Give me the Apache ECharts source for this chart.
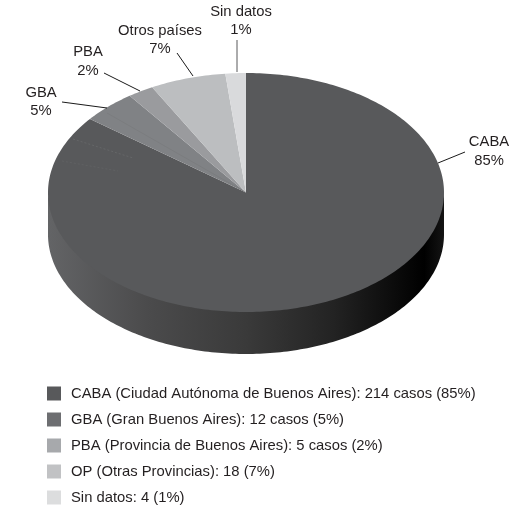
<!DOCTYPE html>
<html><head><meta charset="utf-8">
<style>html,body{margin:0;padding:0;background:#fff}#c{width:511px;height:508px}</style>
<script src="https://cdn.jsdelivr.net/npm/echarts@6/dist/echarts.min.js"></script>
</head><body><div id="c"></div>
<script>
// Data
const labelNames = ['CABA','GBA','PBA','Otros países','Sin datos'];
const labelPercents = [85,5,2,7,1];
const legendTexts = [
  'CABA (Ciudad Autónoma de Buenos Aires): 214 casos (85%)',
  'GBA (Gran Buenos Aires): 12 casos (5%)',
  'PBA (Provincia de Buenos Aires): 5 casos (2%)',
  'OP (Otras Provincias): 18 (7%)',
  'Sin datos: 4 (1%)'
];
// slice sweeps as drawn in the picture (degrees around the ellipse, clockwise from top)
const sliceSweeps = [308,16,7.7,22.3,6];
const sliceColors = ['#58595b','#808285','#9a9b9e','#bcbec0','#d9dadc'];
const legendColors = ['#58595b','#6d6e71','#a7a9ac','#c1c2c4','#dcddde'];

// Layout
const FONT = '"Liberation Sans"';
const C = {x:246,y:192.5,rx:198,ry:119.5,depth:42};
const labelLayout = [
  {x:489,y:151.5,line:[[438,163],[465,152]]},
  {x:41,y:102,line:[[107,108],[62,102]]},
  {x:88,y:61.5,line:[[140,91],[104,73]]},
  {x:160,y:40,line:[[193,76],[177,53]]},
  {x:241,y:21,line:[[237,72],[237,40]]}
];
const faintMarks = [
  [[[73,139],[133,158]],'#6a6b6d',[2,2]],
  [[[62,161],[118,171]],'#636466',[2,2]]
];
const pt = (t,dy=0)=>{const r=t*Math.PI/180;return [C.x+C.rx*Math.sin(r),C.y-C.ry*Math.cos(r)+dy];};
function arcPoints(a,b,dy=0){const n=Math.max(2,Math.ceil(Math.abs(b-a)));const o=[];for(let i=0;i<=n;i++)o.push(pt(a+(b-a)*i/n,dy));return o;}

const wallFill = new echarts.graphic.LinearGradient(0,0,1,0,[
  {offset:0,color:'#636466'},{offset:0.25,color:'#4b4b4c'},{offset:0.5,color:'#3a3a3a'},
  {offset:0.72,color:'#232323'},{offset:0.95,color:'#000000'},{offset:1,color:'#141414'}]);

const wallSeries = {
  type:'custom',name:'wall',coordinateSystem:'none',silent:true,z:1,data:[[1]],animation:false,
  renderItem(){
    return {type:'polygon',shape:{points:[pt(90),...arcPoints(95,265,-6),pt(270),...arcPoints(270,90,C.depth)]},style:{fill:wallFill}};
  }
};
let acc=0;
const sliceSeries = sliceSweeps.map((sweep,i)=>{
  const start=acc; acc+=sweep;
  return {
    type:'custom',name:legendTexts[i],coordinateSystem:'none',silent:true,z:2,animation:false,
    itemStyle:{color:legendColors[i]},
    data:[[start,sweep]],
    renderItem(params,api){
      const a=api.value(0),b=a+api.value(1),L=labelLayout[i];
      const kids=[
        {type:'polygon',shape:{points:[[C.x,C.y],...arcPoints(a,b)]},style:{fill:sliceColors[i]}},
        {type:'polyline',shape:{points:L.line},style:{stroke:i===4?'#58595b':'#1a1a1a',lineWidth:1,fill:null}},
        {type:'text',x:L.x,y:L.y,style:{text:labelNames[i]+'\n'+labelPercents[i]+'%',align:'center',verticalAlign:'middle',
          font:'14.8px '+FONT,lineHeight:18.5,fill:'#231f20'}}
      ];
      if(i===0) faintMarks.forEach(m=>kids.push({type:'polyline',shape:{points:m[0]},style:{stroke:m[1],lineWidth:0.7,lineDash:m[2],fill:null}}));
      if(i===1) kids.push({type:'polyline',shape:{points:[[107,113],[C.x,C.y]]},style:{stroke:'#77787b',lineWidth:0.6,fill:null}});
      return {type:'group',children:kids};
    }
  };
});
const chart=echarts.init(document.getElementById('c'),null,{renderer:'canvas'});
chart.setOption({
  animation:false,backgroundColor:'#fff',
  legend:{orient:'vertical',left:47,top:386,height:122,itemWidth:14,itemHeight:14,itemGap:11,selectedMode:false,padding:0,
    icon:'rect',
    data:legendTexts.map((t,i)=>({name:t,itemStyle:{color:legendColors[i]}})),
    textStyle:{fontFamily:FONT,fontSize:14.8,color:'#231f20',padding:[0,0,0,5]}},
  series:[wallSeries,...sliceSeries]
});
</script></body></html>
